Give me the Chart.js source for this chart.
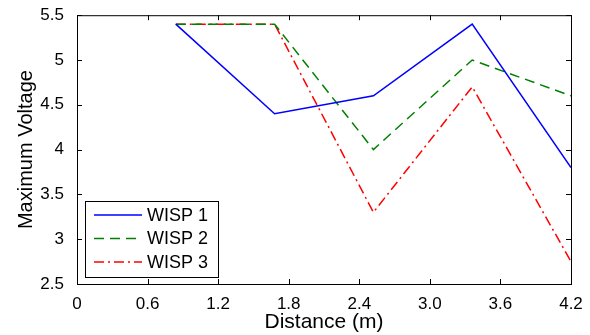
<!DOCTYPE html>
<html lang="en">
<head>
  <meta charset="UTF-8">
  <title>Maximum Voltage vs Distance</title>
  <script src="https://cdn.jsdelivr.net/npm/chart.js"></script>
  <style>
    body { margin: 0; padding: 0; background: #fff; }
    #wrap { width: 590px; height: 335px; }
  </style>
</head>
<body>
  <div id="wrap"><canvas id="chart" width="590" height="335"></canvas></div>
  <script>
    // data
    const distances = [0.84, 1.68, 2.52, 3.36, 4.2];
    const wisp1 = [5.4, 4.4, 4.6, 5.4, 3.8];
    const wisp2 = [5.4, 5.4, 4.0, 5.0, 4.6];
    const wisp3 = [5.4, 5.4, 3.3, 4.7, 2.75];
    const seriesNames = ['WISP 1', 'WISP 2', 'WISP 3'];

    const xTicks = [0, 0.6, 1.2, 1.8, 2.4, 3.0, 3.6, 4.2];
    const xTickLabels = ['0', '0.6', '1.2', '1.8', '2.4', '3.0', '3.6', '4.2'];
    const yTicks = [2.5, 3, 3.5, 4, 4.5, 5, 5.5];
    const yTickLabels = ['2.5', '3', '3.5', '4', '4.5', '5', '5.5'];

    const FONT = "'Liberation Sans', Arial, sans-serif";
    const toPts = ys => ys.map((y, i) => ({ x: distances[i], y }));

    const styles = [
      { color: '#0000ff', dash: [] },
      { color: '#008000', dash: [10, 6] },
      { color: '#ff0000', dash: [10, 4, 2, 4] }
    ];

    // box, inward ticks and legend like the matlab figure
    const matlabBox = {
      id: 'matlabBox',
      afterDatasetsDraw(chart) {
        const { ctx, chartArea: a, scales } = chart;
        ctx.save();
        ctx.strokeStyle = '#000';
        ctx.lineWidth = 1;
        ctx.setLineDash([]);
        ctx.strokeRect(a.left + 0.5, a.top + 0.5, a.right - a.left, a.bottom - a.top);
        const tl = 5;
        ctx.beginPath();
        xTicks.forEach(v => {
          const px = Math.round(scales.x.getPixelForValue(v)) + 0.5;
          ctx.moveTo(px, a.bottom); ctx.lineTo(px, a.bottom - tl);
          ctx.moveTo(px, a.top); ctx.lineTo(px, a.top + tl);
        });
        yTicks.forEach(v => {
          const py = Math.round(scales.y.getPixelForValue(v)) + 0.5;
          ctx.moveTo(a.left, py); ctx.lineTo(a.left + tl, py);
          ctx.moveTo(a.right, py); ctx.lineTo(a.right - tl, py);
        });
        ctx.stroke();

        // legend
        const lx = 85, ly = 201, lw = 133, lh = 76;
        ctx.fillStyle = '#fff';
        ctx.fillRect(lx, ly, lw, lh);
        ctx.strokeRect(lx + 0.5, ly + 0.5, lw, lh);
        ctx.font = '18px ' + FONT;
        ctx.textBaseline = 'middle';
        seriesNames.forEach((name, i) => {
          const yy = ly + 14 + i * 23.5;
          ctx.strokeStyle = styles[i].color;
          ctx.lineWidth = 1.5;
          ctx.setLineDash(styles[i].dash);
          ctx.beginPath();
          ctx.moveTo(lx + 9, yy); ctx.lineTo(lx + 57, yy);
          ctx.stroke();
          ctx.setLineDash([]);
          ctx.fillStyle = '#000';
          ctx.fillText(name, lx + 62, yy + 1);
        });
        ctx.restore();
      }
    };

    new Chart(document.getElementById('chart'), {
      type: 'line',
      data: {
        datasets: [wisp1, wisp2, wisp3].map((ys, i) => ({
          label: seriesNames[i],
          data: toPts(ys),
          borderColor: styles[i].color,
          borderDash: styles[i].dash,
          borderWidth: 1.5,
          pointRadius: 0,
          tension: 0,
          fill: false
        }))
      },
      options: {
        responsive: false,
        animation: false,
        layout: { padding: { top: 15, right: 19, left: 0, bottom: 0 } },
        plugins: { legend: { display: false }, tooltip: { enabled: false } },
        scales: {
          x: {
            type: 'linear',
            min: 0, max: 4.2,
            afterBuildTicks: s => { s.ticks = xTicks.map(v => ({ value: v })); },
            afterFit: s => { s.height = 51; },
            grid: { display: false },
            border: { display: false },
            ticks: {
              color: '#000',
              font: { family: FONT, size: 17 },
              padding: 2,
              maxRotation: 0,
              callback: (v, i) => xTickLabels[i]
            },
            title: {
              display: true,
              text: 'Distance (m)',
              color: '#000',
              font: { family: FONT, size: 21 },
              padding: { top: 0, bottom: 0 }
            }
          },
          y: {
            type: 'linear',
            min: 2.5, max: 5.5,
            afterBuildTicks: s => { s.ticks = yTicks.map(v => ({ value: v })); },
            afterFit: s => { s.width = 77; },
            grid: { display: false },
            border: { display: false },
            ticks: {
              color: '#000',
              font: { family: FONT, size: 17 },
              padding: 5,
              callback: (v, i) => yTickLabels[i]
            },
            title: {
              display: true,
              text: 'Maximum Voltage',
              color: '#000',
              font: { family: FONT, size: 20 },
              padding: { top: 14, bottom: 0 }
            }
          }
        }
      },
      plugins: [matlabBox]
    });
  </script>
</body>
</html>
